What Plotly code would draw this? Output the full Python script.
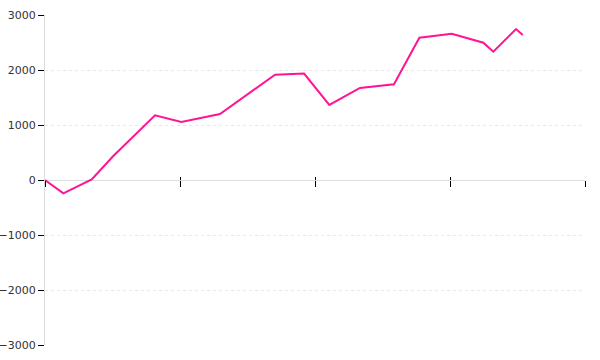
import plotly.graph_objects as go

x_vals = [0, 1.36, 3.46, 5.06, 8.15, 10.1, 12.96, 17.04, 19.19, 21.06, 23.33, 25.85, 27.73, 30.13, 32.47, 33.21, 34.89, 35.39]
y_vals = [0, -242, 12, 436, 1176, 1055, 1200, 1915, 1936, 1364, 1673, 1740, 2587, 2660, 2496, 2333, 2745, 2636]
y_ticks = [-3000, -2000, -1000, 0, 1000, 2000, 3000]
x_ticks = [0, 10, 20, 30, 40]

fig = go.Figure()
fig.add_trace(go.Scatter(x=x_vals, y=y_vals, mode="lines",
                         line=dict(color="#ff1493", width=2), showlegend=False,
                         hoverinfo="skip"))
# invisible trace to activate overlay axis for upper half of x ticks
fig.add_trace(go.Scatter(x=[x_ticks[0], x_ticks[-1]], y=[0, 0], xaxis="x2", mode="lines",
                         line=dict(width=0), showlegend=False, hoverinfo="skip"))

fig.update_layout(
    width=600, height=360,
    margin=dict(l=45, r=15, t=15, b=15),
    paper_bgcolor="white", plot_bgcolor="white",
    font=dict(family="DejaVu Sans", size=11, color="#333"),
    xaxis=dict(range=[0, 40], tickvals=x_ticks, showticklabels=False,
               ticks="outside", ticklen=6, tickcolor="#000", tickwidth=1,
               showgrid=False, zeroline=False, showline=False,
               anchor="free", position=0.5, automargin=False),
    xaxis2=dict(range=[0, 40], tickvals=x_ticks, showticklabels=False,
                ticks="inside", ticklen=3, tickcolor="#000", tickwidth=1,
                showgrid=False, zeroline=False, showline=False,
                overlaying="x", anchor="free", position=0.5, automargin=False),
    yaxis=dict(range=[-3000, 3000], tickvals=y_ticks,
               ticktext=[("\u2212" + str(-v)) if v < 0 else str(v) for v in y_ticks],
               ticks="outside", ticklen=6, tickcolor="#000", tickwidth=1,
               showgrid=True, gridcolor="#e8e8e8", griddash="dot", gridwidth=1,
               zeroline=True, zerolinecolor="#dddddd", zerolinewidth=1,
               showline=True, linecolor="#dddddd", linewidth=1, automargin=False),
)

fig.write_html("out.html")
